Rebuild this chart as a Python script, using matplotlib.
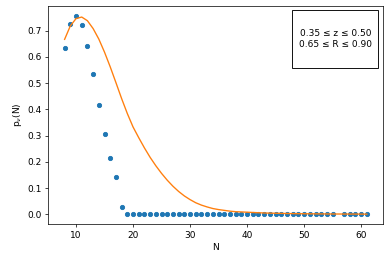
import numpy as np
import matplotlib
matplotlib.use('Agg')
import matplotlib.pyplot as plt
from matplotlib.patches import Rectangle

# measured probabilities
n_obs = [8, 9, 10, 11, 12, 13, 14, 15, 16, 17, 18] + list(range(19, 56)) + list(range(57, 62))
p_obs = [0.633, 0.724, 0.756, 0.720, 0.640, 0.534, 0.416, 0.305, 0.213, 0.141, 0.027] + [0.0] * 37 + [0.0] * 5

# model curve
n_fit = list(range(8, 62))
p_fit = [0.667, 0.718, 0.746, 0.752, 0.738, 0.708, 0.668, 0.618, 0.562, 0.502,
         0.441, 0.384, 0.333, 0.292, 0.253, 0.217, 0.185, 0.156, 0.130, 0.107,
         0.087, 0.070, 0.056, 0.044, 0.035, 0.028, 0.022, 0.018, 0.015, 0.012,
         0.010, 0.009, 0.008, 0.007, 0.006, 0.005, 0.0045, 0.004, 0.0035, 0.003,
         0.0027, 0.0024, 0.0021, 0.0019, 0.0017, 0.0015, 0.0013, 0.0012, 0.0011, 0.001,
         0.0009, 0.0008, 0.0007, 0.0006]

box_text = "0.35 \u2264 z \u2264 0.50\n0.65 \u2264 R \u2264 0.90"

fig = plt.figure(figsize=(6, 262 / 65), dpi=65)
ax = fig.add_axes([0.124, 0.144, 0.859, 0.833])

ax.scatter(n_obs, p_obs, s=22, color='C0', zorder=2)
ax.plot(n_fit, p_fit, color='C1', linewidth=1.5, zorder=3)

ax.set_xlim(5.15, 63.9)
ax.set_ylim(-0.038, 0.794)
ax.set_xticks([10, 20, 30, 40, 50, 60])
ax.set_yticks([0.0, 0.1, 0.2, 0.3, 0.4, 0.5, 0.6, 0.7])
ax.set_xlabel('N')
ax.set_ylabel(r'p$_\nu$(N)')

# legend-like box in the upper right
ax.add_patch(Rectangle((0.728, 0.715), 0.257, 0.265, transform=ax.transAxes,
                       fill=False, edgecolor='black', linewidth=1.0, zorder=5))
ax.text(0.8565, 0.8475, box_text, transform=ax.transAxes, ha='center', va='center',
        linespacing=1.3, zorder=6)

fig.savefig('out.png', dpi=65)
